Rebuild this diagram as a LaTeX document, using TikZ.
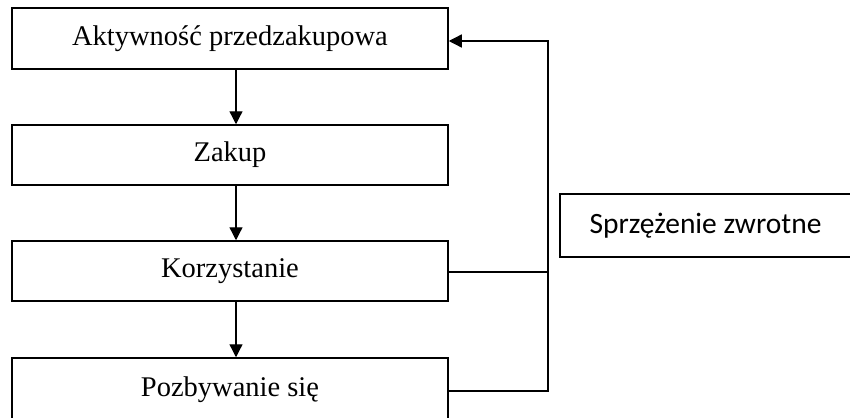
\documentclass[tikz,border=0pt]{standalone}
\usepackage{fontspec}
\setmainfont{Liberation Serif}
\newfontfamily\calib{Carlito}
\usetikzlibrary{arrows.meta,calc}
\begin{document}
\begin{tikzpicture}[x=1pt,y=-1pt,
  box/.style={draw,line width=1.5pt,minimum width=436pt,minimum height=60pt,inner sep=0pt,font=\fontsize{28.5}{32}\selectfont},
  fbbox/.style={draw,line width=1.5pt,minimum width=291pt,minimum height=63pt,inner sep=0pt,font=\calib\fontsize{29.5}{34}\selectfont},
  arr/.style={line width=1.3pt,-{Triangle[length=13pt,width=13pt]}},
  ln/.style={line width=1.3pt}]
\useasboundingbox (0,0) rectangle (850,417);
\clip (0,0) rectangle (850,417);
\node[box,minimum height=61pt] (b1) at (230,38.5) {Aktywność przedzakupowa};
\node[box] (b2) at (230,155) {Zakup};
\node[box] (b3) at (230,271) {Korzystanie};
\node[box,minimum height=64pt] (b4) at (230,390) {Pozbywanie się};
\node[fbbox] (fb) at (705.5,225.5) {Sprzężenie zwrotne};
\coordinate (xa) at (236,0);
\coordinate (xf) at (548,0);
\coordinate (ya) at (0,41);
\coordinate (y3) at (0,272);
\coordinate (y4) at (0,391);
\draw[arr] (b1.south -| xa) -- (b2.north -| xa);
\draw[arr] (b2.south -| xa) -- (b3.north -| xa);
\draw[arr] (b3.south -| xa) -- (b4.north -| xa);
\draw[ln] (b3.east |- y3) -- (xf |- y3);
\draw[arr] (b4.east |- y4) -- (xf |- y4) -- (xf |- ya) -- (b1.east |- ya);
\end{tikzpicture}
\end{document}
